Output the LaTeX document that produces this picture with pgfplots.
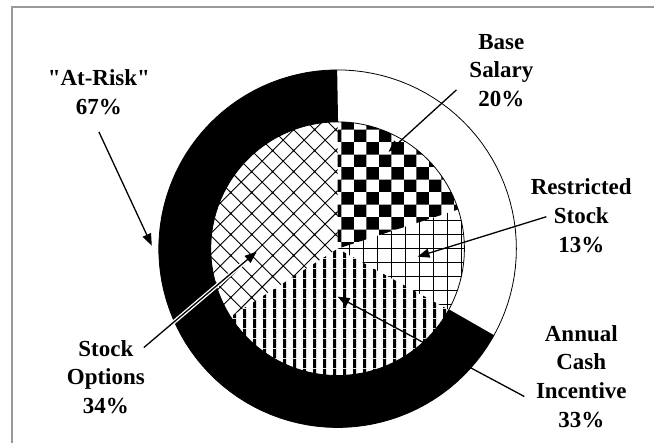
\documentclass[border=0pt]{standalone}
\usepackage{pgfplots}
\pgfplotsset{compat=1.18}
\usepackage{fontspec}
\setmainfont{Liberation Serif}
\usetikzlibrary{arrows.meta,patterns}

% checkerboard
\pgfdeclarepatternformonly{checker}{\pgfpointorigin}{\pgfpoint{25.4bp}{25.4bp}}{\pgfpoint{25.4bp}{25.4bp}}{%
  \pgfpathrectangle{\pgfpointorigin}{\pgfpoint{12.7bp}{12.7bp}}%
  \pgfpathrectangle{\pgfpoint{12.7bp}{12.7bp}}{\pgfpoint{12.7bp}{12.7bp}}%
  \pgfusepath{fill}}
% thick vertical lines
\pgfdeclarepatternformonly{vlines}{\pgfpointorigin}{\pgfpoint{9.6bp}{9.6bp}}{\pgfpoint{9.6bp}{9.6bp}}{%
  \pgfpathrectangle{\pgfpoint{3.2bp}{0bp}}{\pgfpoint{3.1bp}{9.6bp}}%
  \pgfusepath{fill}}
% thin square grid
\pgfdeclarepatternformonly{sqgrid}{\pgfpointorigin}{\pgfpoint{14bp}{14bp}}{\pgfpoint{14bp}{14bp}}{%
  \pgfpathrectangle{\pgfpointorigin}{\pgfpoint{14bp}{0.9bp}}%
  \pgfpathrectangle{\pgfpointorigin}{\pgfpoint{0.9bp}{14bp}}%
  \pgfusepath{fill}}
% diagonal crosshatch
\pgfdeclarepatternformonly{dcross}{\pgfpoint{-1bp}{-1bp}}{\pgfpoint{22bp}{22bp}}{\pgfpoint{21bp}{21bp}}{%
  \pgfsetlinewidth{0.9bp}%
  \pgfpathmoveto{\pgfpoint{-1bp}{-1bp}}\pgfpathlineto{\pgfpoint{22bp}{22bp}}%
  \pgfpathmoveto{\pgfpoint{-1bp}{22bp}}\pgfpathlineto{\pgfpoint{22bp}{-1bp}}%
  \pgfusepath{stroke}}

\tikzset{lbl/.style={font=\fontsize{23bp}{28bp}\selectfont\bfseries, anchor=base, inner sep=0pt}}

\def\pBase{20}
\def\pRestr{13}
\def\pCash{33}
\def\pOpt{34}
\def\pRisk{67}

\begin{document}
\begin{tikzpicture}
\pgfmathsetmacro\aA{90-3.6*\pBase}
\pgfmathsetmacro\aB{\aA-3.6*\pRestr}
\pgfmathsetmacro\aC{\aB-3.6*\pCash}
\pgfmathsetmacro\aD{\aC-3.6*\pOpt}
\pgfmathsetmacro\rA{90-3.6*(100-\pRisk)}
\pgfmathsetmacro\rB{\rA-3.6*\pRisk}
\begin{axis}[width=655bp, height=444bp, scale only axis,
  xmin=0, xmax=655, ymin=0, ymax=444,
  hide axis, clip=false]
% full canvas (bounding box)
\addplot[draw=none, forget plot] coordinates {(0,0) (655,444)};
% frame
\addplot[color=black!40, line width=1.6bp] coordinates {(12,0) (12,437) (655,437)};
% inner pie
\addplot[draw=none, pattern=checker, domain=\aA:90, samples=60, variable=\t]
  ({338+127*cos(t)}, {195+127*sin(t)}) -- (338,195) -- cycle;
\addplot[draw=none, pattern=sqgrid, domain=\aB:\aA, samples=60, variable=\t]
  ({338+127*cos(t)}, {195+127*sin(t)}) -- (338,195) -- cycle;
\addplot[draw=none, pattern=vlines, domain=\aC:\aB, samples=80, variable=\t]
  ({338+127*cos(t)}, {195+127*sin(t)}) -- (338,195) -- cycle;
\addplot[draw=none, pattern=dcross, domain=\aD:\aC, samples=80, variable=\t]
  ({338+127*cos(t)}, {195+127*sin(t)}) -- (338,195) -- cycle;
% circles
\addplot[black, line width=0.8bp, domain=0:360, samples=120, variable=\t]
  ({338+127*cos(t)}, {195+127*sin(t)});
\addplot[black, line width=0.8bp, domain=0:360, samples=120, variable=\t]
  ({338+179*cos(t)}, {195+179*sin(t)});
% at-risk ring
\addplot[black, line width=52bp, line cap=butt, domain=\rB:\rA, samples=120, variable=\t]
  ({338+153*cos(t)}, {195+153*sin(t)});
% arrows
\addplot[black, line width=1.3bp, -{Triangle[length=12bp,width=9bp]}] coordinates {(457,354) (389,292)};
\addplot[black, line width=1.3bp, -{Triangle[length=12bp,width=9bp]}] coordinates {(547,227) (418,187)};
\addplot[black, line width=1.3bp, -{Triangle[length=12bp,width=9bp]}] coordinates {(525,47) (338,147)};
\addplot[black, line width=1.3bp, -{Triangle[length=12bp,width=9bp]}] coordinates {(99,312) (152,198)};
\addplot[white, line width=4bp] coordinates {(144,96) (250,186)};
\addplot[black, line width=1.3bp, -{Triangle[length=12bp,width=9bp]}] coordinates {(144,96) (257,192)};
% labels
\node[lbl] at (axis cs:502,394) {Base};
\node[lbl] at (axis cs:502,366) {Salary};
\node[lbl] at (axis cs:502,337) {20\%};
\node[lbl] at (axis cs:582,249) {Restricted};
\node[lbl] at (axis cs:582,220) {Stock};
\node[lbl] at (axis cs:582,191) {13\%};
\node[lbl] at (axis cs:582,102) {Annual};
\node[lbl] at (axis cs:582,74) {Cash};
\node[lbl] at (axis cs:582,45) {Incentive};
\node[lbl] at (axis cs:582,16) {33\%};
\node[lbl] at (axis cs:99,358) {\addfontfeatures{Ligatures=TeXOff}"At-Risk"};
\node[lbl] at (axis cs:99,329) {67\%};
\node[lbl] at (axis cs:106,87) {Stock};
\node[lbl] at (axis cs:106,59) {Options};
\node[lbl] at (axis cs:106,30) {34\%};
\end{axis}
\end{tikzpicture}
\end{document}
